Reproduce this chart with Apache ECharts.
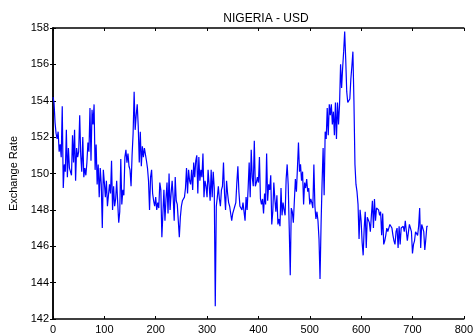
<!DOCTYPE html>
<html>
<head>
<meta charset="utf-8">
<script src="https://cdn.jsdelivr.net/npm/echarts@6/dist/echarts.min.js"></script>
<style>
    html, body { margin: 0; padding: 0; background: #fff; }
    #chart { width: 476px; height: 335px; }
</style>
</head>
<body>
<div id="chart"></div>
<script>
    // one reading every 2 days, day 0 .. 730
    const dayStep = 2
    const rates = [
        154.2, 153.9, 152.8, 152.2, 151.9, 152.3, 151.2, 151.6, 150.9, 153.7,
        149.2, 150.5, 150.1, 152.4, 149.8, 151.4, 150.3, 150.1, 149.9, 152.1,
        150.6, 152.4, 149.6, 151.4, 150.9, 151.2, 153.2, 151.0, 150.1, 152.0,
        149.8, 150.3, 149.9, 150.6, 151.7, 151.2, 153.6, 150.7, 153.5, 152.7,
        153.8, 150.2, 151.6, 149.4, 150.5, 148.7, 150.3, 149.4, 147.0, 150.2,
        149.5, 148.7, 149.6, 148.2, 148.3, 149.4, 148.9, 150.7, 148.0, 149.3,
        148.2, 148.6, 149.6, 148.4, 147.3, 147.9, 150.8, 148.3, 149.1, 148.8,
        150.9, 151.3, 150.6, 151.1, 150.4, 150.2, 149.3, 151.0, 152.2, 154.5,
        152.4, 153.2, 153.8, 152.6, 150.6, 152.3, 150.4, 151.5, 150.9, 151.4,
        151.4, 150.7, 150.3, 149.6, 148.0, 149.8, 150.2, 148.9, 148.5, 148.2,
        148.7, 148.0, 148.4, 148.1, 149.5, 149.1, 146.5, 147.8, 149.1, 147.4,
        148.6, 149.5, 147.8, 150.0, 148.0, 148.9, 149.6, 148.7, 147.4, 149.8,
        148.5, 148.3, 148.4, 146.5, 147.6, 148.2, 148.5, 148.4, 148.7, 149.2,
        150.3, 148.9, 150.2, 149.6, 149.4, 150.2, 149.1, 150.6, 149.8, 150.7,
        151.0, 148.9, 150.9, 149.6, 150.2, 149.8, 151.1, 148.7, 149.6, 149.3,
        148.7, 150.2, 149.4, 148.5, 150.2, 148.7, 150.1, 149.2, 142.7, 148.2,
        148.7, 149.3, 148.6, 148.2, 149.1, 149.3, 150.6, 148.9, 148.0, 149.6,
        148.9, 148.4, 148.2, 147.8, 147.4, 147.8, 148.0, 148.2, 148.4, 149.5,
        150.4, 149.0, 148.2, 148.2, 148.0, 148.4, 148.3, 147.4, 148.7, 148.0,
        149.2, 150.6, 148.7, 151.3, 149.8, 149.3, 151.8, 149.3, 149.5, 149.8,
        149.5, 150.9, 148.6, 148.3, 148.6, 147.8, 148.9, 148.3, 151.1, 148.5,
        149.4, 149.1, 149.9, 147.2, 147.9, 149.5, 148.6, 147.9, 148.8, 147.2,
        147.5, 147.1, 149.2, 147.7, 148.4, 148.0, 147.7, 149.7, 150.5, 149.4,
        147.0, 144.4, 148.1, 147.9, 147.3, 148.5, 149.7, 149.0, 150.3, 151.7,
        150.1, 150.5, 149.6, 150.1, 148.3, 149.5, 149.2, 149.7, 149.0, 149.2,
        148.3, 148.6, 148.4, 148.1, 150.5, 148.2, 147.5, 147.9, 147.4, 146.4,
        144.2, 147.2, 149.5, 151.4, 148.8, 152.3, 151.9, 153.6, 152.1, 153.8,
        153.2, 153.8, 152.7, 153.4, 152.1, 153.9, 151.9, 153.9, 152.7, 153.8,
        156.0, 154.7, 155.8, 156.7, 157.8, 156.3, 154.5, 153.9, 153.8, 154.1,
        155.2, 155.9, 156.7, 154.0, 150.5, 149.4, 149.0, 148.3, 146.4, 148.0,
        147.4, 146.2, 145.5, 147.0, 147.9, 145.9, 147.6, 147.5, 147.3, 146.8,
        147.7, 148.5, 147.0, 148.6, 147.4, 148.1, 148.1, 148.0, 147.7, 147.9,
        146.6, 147.8, 146.1, 146.3, 146.6, 147.0, 146.8, 146.8, 147.2, 147.1,
        147.0, 146.6, 146.3, 146.1, 146.8, 147.0, 145.9, 147.1, 146.1, 147.0,
        147.0, 147.1, 146.8, 147.4, 147.5, 146.3, 146.3, 147.2, 147.3, 146.8,
        145.6, 146.1, 146.3, 146.8, 146.9, 146.6, 147.1, 148.1, 145.9, 147.2,
        147.2, 146.8, 145.8, 146.4, 147.1, 147.1
    ]

    const font = "'Liberation Sans', Arial, sans-serif"
    const axisLine = { show: true, lineStyle: { color: '#000', width: 1.5 } }
    const axisTick = { show: true, inside: true, length: 3, lineStyle: { color: '#000' } }

    const chart = echarts.init(document.getElementById('chart'))
    chart.setOption({
        animation: false,
        title: {
            text: 'NIGERIA - USD',
            left: 261,
            textAlign: 'center',
            top: 8,
            textStyle: { color: '#000', fontSize: 12, fontWeight: 'normal', fontFamily: font }
        },
        grid: { left: 53, right: 8, top: 28, bottom: 16 },
        xAxis: [
            {
                type: 'value',
                min: 0,
                max: 800,
                interval: 100,
                axisLine: axisLine,
                axisTick: axisTick,
                splitLine: { show: false },
                axisLabel: { color: '#000', fontSize: 11, fontFamily: font, margin: 5 }
            },
            {
                type: 'value',
                position: 'top',
                min: 0,
                max: 800,
                interval: 100,
                axisLine: axisLine,
                axisTick: axisTick,
                splitLine: { show: false },
                axisLabel: { show: false }
            }
        ],
        yAxis: [
            {
                type: 'value',
                min: 142,
                max: 158,
                interval: 2,
                name: 'Exchange Rate',
                nameLocation: 'middle',
                nameGap: 34,
                nameTextStyle: { color: '#000', fontSize: 11, fontFamily: font },
                axisLine: axisLine,
                axisTick: axisTick,
                splitLine: { show: false },
                axisLabel: { color: '#000', fontSize: 11, fontFamily: font, margin: 4 }
            },
            {
                type: 'value',
                position: 'right',
                min: 142,
                max: 158,
                interval: 2,
                axisLine: axisLine,
                axisTick: axisTick,
                splitLine: { show: false },
                axisLabel: { show: false }
            }
        ],
        series: [
            {
                type: 'line',
                data: rates.map((v, i) => [i * dayStep, v]),
                showSymbol: false,
                lineStyle: { color: '#0000ff', width: 1.2 },
                itemStyle: { color: '#0000ff' }
            }
        ]
    })
</script>
</body>
</html>
